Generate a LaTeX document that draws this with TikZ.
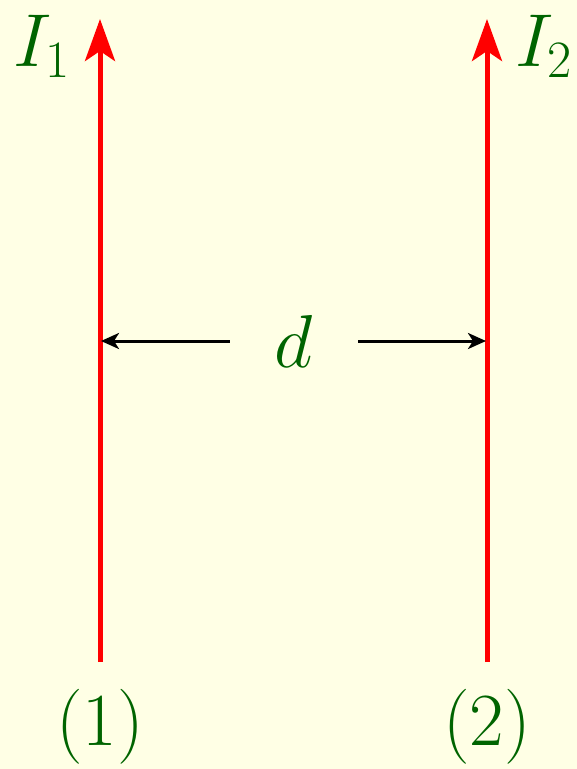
\RequirePackage{fix-cm}
\documentclass[tikz,border=0pt]{standalone}
\usepackage{tikz}
\usetikzlibrary{arrows.meta,positioning}
\definecolor{bgYellow}{RGB}{255,255,229}
\definecolor{labGreen}{RGB}{0,100,0}
\tikzset{
myWire/.style={
	-{Stealth[length=42pt,width=30pt,inset=10pt]},
	draw=red, line width=5pt
}
, myDist/.style={
	-{Stealth[length=18pt,width=16pt,inset=5pt]},
	draw=black, line width=3pt
}
, myLabel/.style={
	text=labGreen, inner sep=0pt,
	font=\fontsize{75}{80}\selectfont
}
}

\begin{document}
\begin{tikzpicture}[x=1pt,y=-1pt]
	% background
	\fill[bgYellow] (0,0) rectangle (577,769);
	\useasboundingbox (0,0) rectangle (577,769);
	% wires
	\coordinate (W1b) at (100,662);
	\coordinate (W1t) at (100,19);
	\coordinate (W1m) at (101,341);
	\coordinate (W2b) at (487,662);
	\coordinate (W2t) at (487,19);
	\coordinate (W2m) at (486,341);
	\draw[myWire] (W1b) -- (W1t);
	\draw[myWire] (W2b) -- (W2t);
	% labels
	\node[myLabel] (I1) at (42,46) {$I_1$};
	\node[myLabel] (I2) at (544,46) {$I_2$};
	\node[myLabel] (N1) at (100,727) {$(1)$};
	\node[myLabel] (N2) at (487,727) {$(2)$};
	% distance
	\node[myLabel, minimum width=128pt] (d) at (294,341) {$d$};
	\draw[myDist] (d.west) -- (W1m);
	\draw[myDist] (d.east) -- (W2m);
\end{tikzpicture}
\end{document}
